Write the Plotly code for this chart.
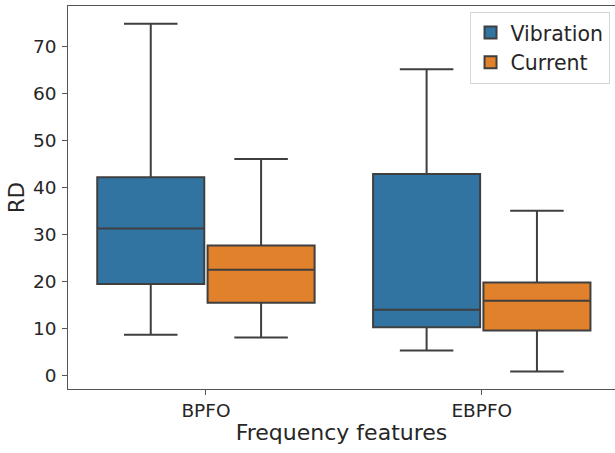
import plotly.graph_objects as go

categories = ["BPFO", "EBPFO"]
series_names = ["Vibration", "Current"]

# Box statistics: lower whisker, Q1, median, Q3, upper whisker
vib_lower = [8.7, 5.3]
vib_q1 = [19.5, 10.3]
vib_median = [31.3, 14.0]
vib_q3 = [42.2, 42.9]
vib_upper = [74.9, 65.2]

cur_lower = [8.1, 0.85]
cur_q1 = [15.5, 9.6]
cur_median = [22.5, 15.9]
cur_q3 = [27.7, 19.8]
cur_upper = [46.1, 35.1]

y_ticks = [0, 10, 20, 30, 40, 50, 60, 70]

colors = ["#3274a1", "#e1812c"]
edge = "#3f3f3f"
FONT = "DejaVu Sans"

fig = go.Figure()
stats = [
    (vib_lower, vib_q1, vib_median, vib_q3, vib_upper),
    (cur_lower, cur_q1, cur_median, cur_q3, cur_upper),
]
for name, color, (lo, q1, med, q3, hi) in zip(series_names, colors, stats):
    fig.add_trace(go.Box(
        name=name,
        x=categories,
        q1=q1, median=med, q3=q3,
        lowerfence=lo, upperfence=hi,
        fillcolor=color,
        line=dict(color=edge, width=2),
        whiskerwidth=0.5,
        boxpoints=False,
        hoverinfo="skip",
    ))

fig.update_layout(
    width=615, height=453,
    margin=dict(l=67.5, r=0, t=5.5, b=63.5, autoexpand=False),
    paper_bgcolor="white", plot_bgcolor="white",
    font=dict(family=FONT, color="#262626"),
    boxmode="group", boxgap=0.2, boxgroupgap=0.03,
    showlegend=True,
    legend=dict(
        x=0.99, y=0.985, xanchor="right", yanchor="top",
        bgcolor="rgba(255,255,255,0.8)", bordercolor="#d6d6d6", borderwidth=1,
        font=dict(family=FONT, size=20.5, color="#262626"),
        tracegroupgap=0,
    ),
)
fig.update_xaxes(
    type="category", range=[-0.5, 1.483], automargin=False,
    showline=True, linecolor="#555555", linewidth=1.3, mirror=True,
    ticks="outside", ticklen=4.5, tickcolor="#555555", tickwidth=1,
    tickfont=dict(family=FONT, size=18.5, color="#262626"),
    title=dict(text="Frequency features", font=dict(family=FONT, size=22, color="#262626"), standoff=4),
    showgrid=False, zeroline=False,
)
fig.update_yaxes(
    range=[-2.87, 78.66], automargin=False,
    tickvals=y_ticks, ticktext=[str(v) for v in y_ticks],
    showline=True, linecolor="#555555", linewidth=1.3, mirror=False,
    ticks="outside", ticklen=4.5, tickcolor="#555555", tickwidth=1,
    ticklabelstandoff=2,
    tickfont=dict(family=FONT, size=18.5, color="#262626"),
    title=dict(text="RD", font=dict(family=FONT, size=21, color="#262626"), standoff=2),
    showgrid=False, zeroline=False,
)

fig.write_html(
    "out.html",
    config={"displayModeBar": False},
    post_script="document.body.style.margin='0';document.body.style.overflow='hidden';",
)
